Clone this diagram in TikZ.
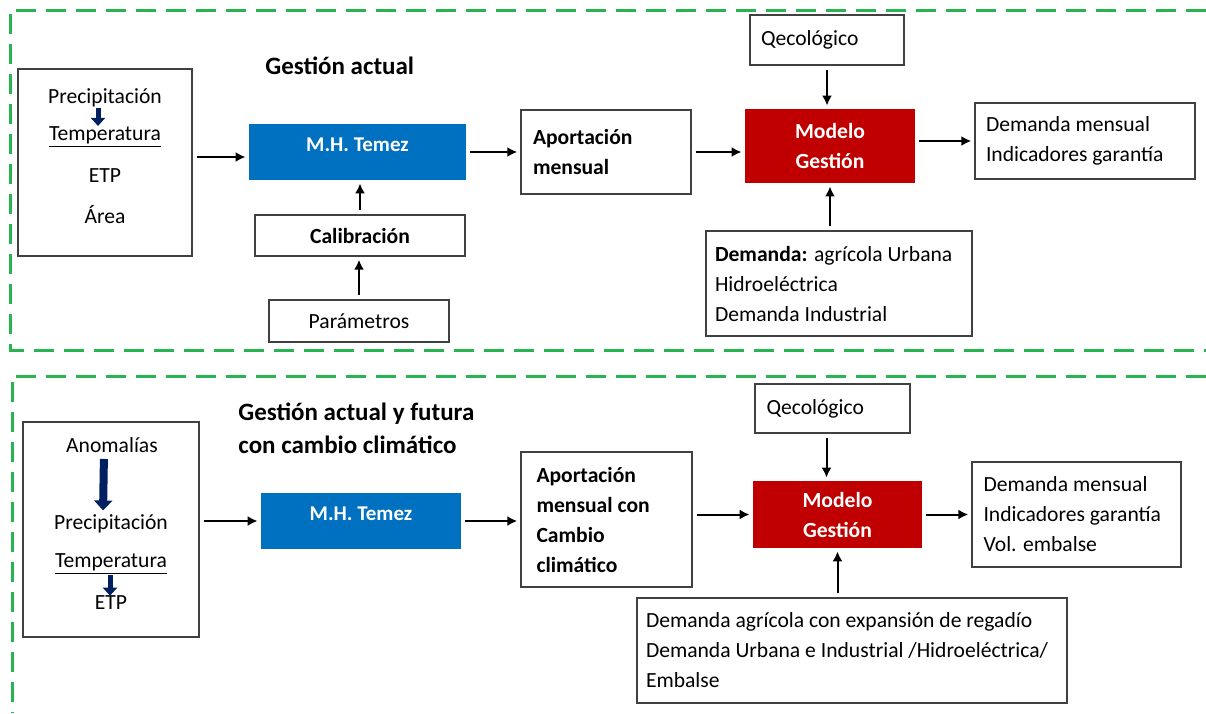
\documentclass[tikz,border=0pt]{standalone}
\usepackage{fontspec}
\setmainfont{Carlito}
\usetikzlibrary{calc}
\usetikzlibrary{arrows.meta}

\definecolor{verde}{RGB}{40,180,80}
\definecolor{azulT}{RGB}{0,112,192}
\definecolor{rojoM}{RGB}{192,0,0}
\definecolor{marino}{RGB}{0,32,96}

\tikzset{
  marco/.style={draw=verde, line width=1.5pt, dash pattern=on 10pt off 5pt},
  caja/.style={draw=black!75, line width=0.7pt, inner sep=0pt, align=flush left,
    font=\fontsize{10.8}{15}\selectfont},
  txt/.style={inner sep=0pt, font=\fontsize{10.8}{13}\selectfont},
  titulo/.style={inner sep=0pt, align=left, font=\bfseries\fontsize{12.5}{16.5}\selectfont},
  temez/.style={fill=azulT, inner sep=0pt, text=white, text depth=7pt,
    font=\bfseries\fontsize{10.5}{13}\selectfont},
  modelo/.style={fill=rojoM, inner sep=0pt, text=white, align=center,
    font=\bfseries\fontsize{10.8}{15}\selectfont},
  flecha/.style={-{Latex[length=5pt,width=5pt]}, line width=1pt, shorten <=2pt, shorten >=1.5pt},
  bloque/.style={-{Triangle[length=4pt,width=7pt]}, draw=marino, line width=2.5pt}
}

\begin{document}
\begin{tikzpicture}[x=0.5pt,y=-0.5pt]
\useasboundingbox (0,0) rectangle (1206,713);

% marcos verdes
\draw[marco] (1206,10) -- (10,10) -- (10,350) -- (1206,350);
\draw[marco] (1206,376) -- (12,376) -- (12,713);

%%%%% Gestion actual
\node[titulo, anchor=west] (titulo1) at (265,66) {Gestión actual};

\node[caja, minimum width=87pt, minimum height=93.5pt] (entrada1) at (105,162.5) {};
\node[txt] (prec1) at (105,98) {Precipitación};
\node[txt] (temp1) at (105,137) {\underline{Temperatura}};
\node[txt] (etp1) at (105,176) {ETP};
\node[txt] (area1) at (105,215) {Área};
\draw[bloque] ([xshift=-3.5pt]prec1.south) -- ([xshift=-3.5pt]temp1.north);

\node[temez, minimum width=108.5pt, minimum height=28pt] (temez1) at (357.5,152) {M.H. Temez};
\node[caja, align=center, minimum width=105pt, minimum height=20.5pt,
  font=\bfseries\fontsize{10.8}{13}\selectfont] (calib1) at (360,235.5) {Calibración};
\node[caja, align=center, minimum width=90pt, minimum height=21pt] (param1) at (359,321) {Parámetros};

\node[caja, minimum width=85pt, minimum height=42pt, text width=73pt,
  font=\bfseries\fontsize{10.8}{15}\selectfont] (aport1) at (606,152) {Aportación\\mensual};
\node[modelo, minimum width=85pt, minimum height=37pt] (modelo1) at (830,146) {Modelo\\Gestión};
\node[caja, minimum width=77pt, minimum height=25pt, text width=66pt] (qeco1) at (827,40) {Qecológico};
\node[caja, minimum width=110pt, minimum height=38pt, text width=99pt] (salida1) at (1085,141)
  {Demanda mensual\\Indicadores garantía};
\node[caja, minimum width=133pt, minimum height=52.5pt, text width=124pt] (demanda1) at (839,283.5)
  {\textbf{Demanda:} agrícola Urbana\\Hidroeléctrica\\Demanda Industrial};

% conexiones
\draw[flecha] ([yshift=-2.5pt]entrada1.east |- temez1.west) -- ([yshift=-2.5pt]temez1.west);
\draw[flecha] (param1.north) -- (param1.north |- calib1.south);
\draw[flecha] (calib1.north) -- (calib1.north |- temez1.south);
\draw[flecha] (temez1.east) -- (temez1.east -| aport1.west);
\draw[flecha] (aport1.east) -- (aport1.east -| modelo1.west);
\draw[flecha] (qeco1.south) -- (qeco1.south |- modelo1.north);
\draw[flecha] (demanda1.north -| modelo1) -- (modelo1.south);
\draw[flecha] (modelo1.east |- salida1) -- (salida1.west);

%%%%% Gestion actual y futura
\node[titulo, anchor=west] (titulo2) at (238,428.5) {Gestión actual y futura\\con cambio climático};

\node[caja, minimum width=88pt, minimum height=107.5pt] (entrada2) at (111,529.5) {};
\node[txt] (anom2) at (112,445) {Anomalías};
\node[txt] (prec2) at (111,524) {Precipitación};
\node[txt] (temp2) at (111,564) {\underline{Temperatura}};
\node[txt] (etp2) at (111,603) {ETP};
\draw[bloque, line width=4pt, -{Triangle[length=5pt,width=9pt]}, shorten <=3pt, shorten >=2pt]
  ([xshift=-4pt]anom2.south) -- ([xshift=-4pt]prec2.north);
\draw[bloque] ([xshift=-0.5pt]temp2.south) -- ([xshift=-0.5pt]etp2.north);

\node[temez, minimum width=100pt, minimum height=28pt] (temez2) at (361,521) {M.H. Temez};
\node[caja, minimum width=85.5pt, minimum height=67.5pt, text width=70pt,
  font=\bfseries\fontsize{10.8}{15}\selectfont] (aport2) at (606.5,519.5)
  {Aportación\\mensual con\\Cambio\\climático};
\node[modelo, minimum width=84.5pt, minimum height=33.5pt] (modelo2) at (837.5,514.5) {Modelo\\Gestión};
\node[caja, minimum width=77.5pt, minimum height=24.5pt, text width=66pt] (qeco2) at (832.5,408.5) {Qecológico};
\node[caja, minimum width=104.5pt, minimum height=52.5pt, text width=93pt] (salida2) at (1076.5,514.5)
  {Demanda mensual\\Indicadores garantía\\Vol. embalse};
\node[caja, minimum width=215pt, minimum height=52.5pt, text width=206pt] (demanda2) at (852,650.5)
  {Demanda agrícola con expansión de regadío\\Demanda Urbana e Industrial /Hidroeléctrica/\\Embalse};

% conexiones
\draw[flecha] (entrada2.east |- temez2) -- (temez2.west);
\draw[flecha] (temez2.east) -- (temez2.east -| aport2.west);
\draw[flecha] (aport2.east |- modelo2) -- (modelo2.west);
\draw[flecha] ([xshift=-3pt]qeco2.south) -- ([xshift=-3pt]qeco2.south |- modelo2.north);
\draw[flecha] (demanda2.north -| modelo2) -- (modelo2.south);
\draw[flecha] (modelo2.east) -- (modelo2.east -| salida2.west);
\end{tikzpicture}
\end{document}
